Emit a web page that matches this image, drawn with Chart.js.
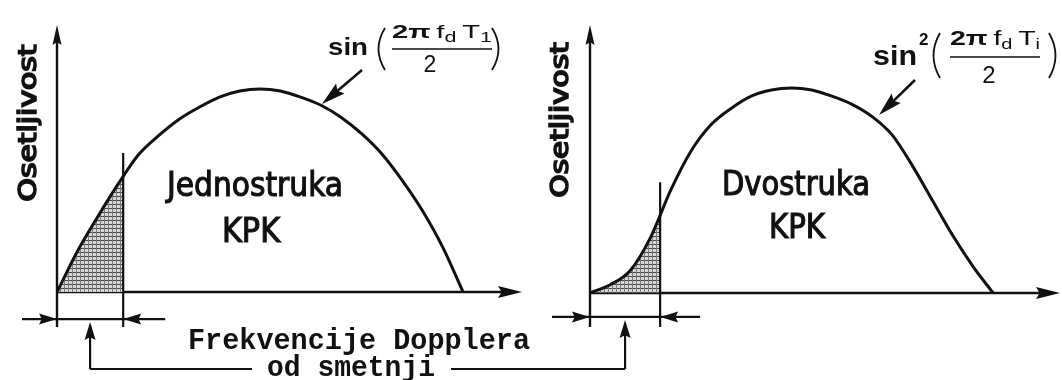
<!DOCTYPE html>
<html>
<head>
<meta charset="utf-8">
<script src="https://cdn.jsdelivr.net/npm/chart.js@4.4.1/dist/chart.umd.min.js"></script>
<style>
  html, body { margin: 0; padding: 0; background: #fff; }
  #wrap { position: relative; width: 1062px; height: 380px; overflow: hidden; background: #fff; }
  #wrap canvas { position: absolute; left: 0; top: 0; }
</style>
</head>
<body>
<div id="wrap">
  <canvas id="single" width="1062" height="380"></canvas>
  <canvas id="double" width="1062" height="380"></canvas>
</div>
<script>
(function () {
  "use strict";

  // normalised Doppler frequency (fd*Ti), first blind speed at 1
  var FREQ_1 = [0, 0.05, 0.10, 0.15, 0.20, 0.25, 0.30, 0.35, 0.40, 0.45, 0.50,
                0.55, 0.60, 0.65, 0.70, 0.75, 0.80, 0.85, 0.90, 0.95, 1.00];
  // single canceller response
  var SENS_1 = [0, 0.20, 0.37, 0.53, 0.675, 0.77, 0.85, 0.91, 0.96, 0.99, 1.00,
                0.99, 0.96, 0.92, 0.86, 0.78, 0.68, 0.55, 0.40, 0.22, 0];

  var FREQ_2 = [0, 0.05, 0.10, 0.15, 0.20, 0.25, 0.30, 0.35, 0.40, 0.45, 0.50,
                0.55, 0.60, 0.65, 0.70, 0.75, 0.80, 0.85, 0.90, 0.95, 1.00];
  // double canceller response
  var SENS_2 = [0, 0.04, 0.11, 0.27, 0.50, 0.69, 0.82, 0.90, 0.96, 0.99, 1.00,
                0.99, 0.96, 0.92, 0.86, 0.77, 0.62, 0.45, 0.28, 0.13, 0];

  // clutter band edge: frequency, response there, top of the marker line
  var CUTOFF_FREQ = [0.163, 0.174];
  var CUTOFF_SENS = [0.57, 0.38];
  var CUTOFF_TOP = [0.685, 0.54];

  // axis ranges of the two panels
  var X_MAX = [1.145, 1.166];
  var Y_MIN = [-0.172, -0.166];
  var Y_MAX = [1.315, 1.307];

  var INK = "#111";
  var NARROW = "'Liberation Sans Narrow', 'DejaVu Sans Condensed', 'Roboto', sans-serif";
  var SANS = "'Liberation Sans', Arial, sans-serif";
  var MONO = "'Liberation Mono', 'DejaVu Sans Mono', monospace";

  // ---- drawing helpers ---------------------------------------------------
  function line(ctx, x1, y1, x2, y2) {
    ctx.beginPath();
    ctx.moveTo(x1, y1);
    ctx.lineTo(x2, y2);
    ctx.stroke();
  }

  // filled head with its tip at (x2, y2)
  function head(ctx, x1, y1, x2, y2, len, half) {
    var a = Math.atan2(y2 - y1, x2 - x1);
    var c = Math.cos(a), s = Math.sin(a);
    ctx.beginPath();
    ctx.moveTo(x2, y2);
    ctx.lineTo(x2 - len * c + half * s, y2 - len * s - half * c);
    ctx.lineTo(x2 - len * c * 0.85, y2 - len * s * 0.85);
    ctx.lineTo(x2 - len * c - half * s, y2 - len * s + half * c);
    ctx.closePath();
    ctx.fill();
  }

  function arrow(ctx, x1, y1, x2, y2, len, half) {
    var a = Math.atan2(y2 - y1, x2 - x1);
    line(ctx, x1, y1, x2 - Math.cos(a) * len * 0.5, y2 - Math.sin(a) * len * 0.5);
    head(ctx, x1, y1, x2, y2, len, half);
  }

  // text squeezed or stretched to a given width, centred on cx
  function fitText(ctx, text, cx, y, width, font, weight) {
    ctx.save();
    ctx.font = font;
    ctx.textAlign = "center";
    var w = ctx.measureText(text).width;
    ctx.translate(cx, y);
    ctx.scale(width / w, 1);
    ctx.fillText(text, 0, 0);
    if (weight) {
      ctx.lineWidth = weight;
      ctx.strokeText(text, 0, 0);
    }
    ctx.restore();
  }

  function paren(ctx, x, top, bot, open) {
    var mid = (top + bot) / 2;
    ctx.beginPath();
    if (open) {
      ctx.moveTo(x + 8, top);
      ctx.quadraticCurveTo(x - 5, mid, x + 8, bot);
    } else {
      ctx.moveTo(x - 8, top);
      ctx.quadraticCurveTo(x + 5, mid, x - 8, bot);
    }
    ctx.stroke();
  }

  function formula(ctx, f) {
    ctx.save();
    ctx.fillStyle = INK;
    ctx.strokeStyle = INK;
    ctx.textBaseline = "alphabetic";
    fitText(ctx, "sin", f.sinX + f.sinW / 2, f.base, f.sinW, "bold " + f.sinSize + "px " + SANS);
    if (f.sup) {
      ctx.font = "bold " + f.sup[2] + "px " + SANS;
      ctx.textAlign = "left";
      ctx.fillText("2", f.sup[0], f.sup[1]);
    }
    ctx.lineWidth = 1.8;
    paren(ctx, f.parL, f.parTop, f.parBot, true);
    paren(ctx, f.parR, f.parTop, f.parBot, false);

    // numerator: 2 pi f_d T_sub
    var n = f.numSize;
    var parts = [
      ["2", "bold " + n + "px " + SANS, 0],
      ["\u03c0", "bold " + n + "px " + SANS, 0],
      ["\u2009f", n + "px " + SANS, 0],
      ["d", Math.round(n * 0.72) + "px " + SANS, 4],
      ["\u2009T", n + "px " + SANS, 0],
      [f.sub, Math.round(n * 0.72) + "px " + SANS, 4]
    ];
    var total = 0;
    parts.forEach(function (p) { ctx.font = p[1]; total += ctx.measureText(p[0]).width; });
    ctx.save();
    ctx.translate(f.numX, f.numBase);
    ctx.scale(f.numW / total, 1);
    ctx.textAlign = "left";
    var px = 0;
    parts.forEach(function (p) {
      ctx.font = p[1];
      ctx.fillText(p[0], px, p[2]);
      px += ctx.measureText(p[0]).width;
    });
    ctx.restore();

    ctx.lineWidth = 1.5;
    line(ctx, f.numX, f.barY, f.numX + f.numW, f.barY);
    ctx.font = f.denSize + "px " + SANS;
    ctx.textAlign = "center";
    ctx.fillText("2", f.denX, f.denBase);

    ctx.lineWidth = 2.6;
    arrow(ctx, f.tipFrom[0], f.tipFrom[1], f.tipTo[0], f.tipTo[1], 24, 6.5);
    ctx.restore();
  }

  // ---- panel furniture: axes, band markers, labels -------------------------
  var sketch = {
    id: "sketch",
    beforeDatasetsDraw: function (chart, args, o) {
      var ctx = chart.ctx, a = chart.chartArea;
      var x0 = chart.scales.x.getPixelForValue(0);
      var y0 = chart.scales.y.getPixelForValue(0);
      ctx.save();
      ctx.strokeStyle = INK;
      ctx.fillStyle = INK;
      ctx.lineWidth = 2.4;
      arrow(ctx, x0, a.bottom, x0, a.top, 20, 4.5);
      arrow(ctx, x0, y0, a.right, y0, 24, 6);
      ctx.restore();
    },
    afterDatasetsDraw: function (chart, args, o) {
      var ctx = chart.ctx;
      var xs = chart.scales.x, ys = chart.scales.y;
      var x0 = xs.getPixelForValue(0);
      var y0 = ys.getPixelForValue(0);
      var xc = xs.getPixelForValue(o.cut);
      var yd = y0 + o.dimDrop;
      var xm = (x0 + xc) / 2;

      ctx.save();
      ctx.strokeStyle = INK;
      ctx.fillStyle = INK;

      // clutter band dimension
      ctx.lineWidth = 2.2;
      line(ctx, x0 - o.tailL, yd, xc + o.tailR, yd);
      head(ctx, x0 - o.tailL, yd, x0, yd, 18, 5.5);
      head(ctx, xc + o.tailR, yd, xc, yd, 18, 5.5);
      arrow(ctx, xm, o.bracketY, xm, yd + 3, 18, 5.5);
      line(ctx, xm, o.bracketY, o.bracketTo, o.bracketY);

      // y axis title, reading upwards
      ctx.save();
      ctx.translate(o.yLabel[0], o.yLabel[1]);
      ctx.rotate(-Math.PI / 2);
      ctx.textBaseline = "middle";
      fitText(ctx, "Osetljivost", 0, 0, o.yLabel[2], "25px " + NARROW, 1.6);
      ctx.restore();

      // canceller name inside the arch
      ctx.textBaseline = "alphabetic";
      o.title.forEach(function (t) {
        fitText(ctx, t[0], t[1], t[2], t[3], "34px " + NARROW, 1.1);
      });

      formula(ctx, o.formula);

      if (o.caption) {
        o.caption.forEach(function (c) {
          fitText(ctx, c[0], c[1], c[2], c[3], "bold 30px " + MONO);
        });
      }
      ctx.restore();
    }
  };

  function hatch(ctx) {
    var c = document.createElement("canvas");
    c.width = 4;
    c.height = 4;
    var g = c.getContext("2d");
    g.fillStyle = "#d6d6d6";
    g.fillRect(0, 0, 4, 4);
    g.fillStyle = "#4a4a4a";
    g.fillRect(0, 0, 4, 1);
    g.fillStyle = "#7a7a7a";
    g.fillRect(0, 0, 1, 4);
    return ctx.createPattern(c, "repeat");
  }

  function points(freq, sens) {
    return freq.map(function (f, i) { return { x: f, y: sens[i] }; });
  }

  function panel(id, k, freq, sens, pad, furniture) {
    var canvas = document.getElementById(id);
    var ctx = canvas.getContext("2d");
    var curve = points(freq, sens);
    var shade = curve.filter(function (p) { return p.x < CUTOFF_FREQ[k]; });
    shade.push({ x: CUTOFF_FREQ[k], y: CUTOFF_SENS[k] });

    return new Chart(ctx, {
      type: "line",
      data: {
        datasets: [
          {
            data: curve,
            borderColor: INK,
            borderWidth: 3,
            pointRadius: 0,
            fill: false,
            cubicInterpolationMode: "monotone",
            order: 0
          },
          {
            data: [{ x: CUTOFF_FREQ[k], y: CUTOFF_TOP[k] }, { x: CUTOFF_FREQ[k], y: Y_MIN[k] }],
            borderColor: INK,
            borderWidth: 2.2,
            pointRadius: 0,
            fill: false,
            order: 1
          },
          {
            data: shade,
            borderWidth: 0,
            borderColor: "rgba(0,0,0,0)",
            backgroundColor: hatch(ctx),
            pointRadius: 0,
            fill: "origin",
            cubicInterpolationMode: "monotone",
            order: 2
          }
        ]
      },
      options: {
        responsive: false,
        animation: false,
        devicePixelRatio: 1,
        layout: { padding: pad },
        events: [],
        scales: {
          x: { type: "linear", min: 0, max: X_MAX[k], display: false },
          y: { type: "linear", min: Y_MIN[k], max: Y_MAX[k], display: false }
        },
        plugins: {
          legend: { display: false },
          tooltip: { enabled: false },
          sketch: furniture
        }
      },
      plugins: [sketch]
    });
  }

  panel("single", 0, FREQ_1, SENS_1, { left: 57, right: 540, top: 25, bottom: 53 }, {
    cut: CUTOFF_FREQ[0],
    dimDrop: 27, tailL: 35, tailR: 42,
    bracketY: 369, bracketTo: 252,
    yLabel: [29, 123, 157],
    title: [["Jednostruka", 255, 196, 176], ["KPK", 251, 242, 58]],
    formula: {
      sinX: 328, sinW: 40, base: 55, sinSize: 24, sup: null,
      parL: 377, parR: 500, parTop: 28, parBot: 70,
      numX: 392, numW: 100, numBase: 38, numSize: 19, sub: "1",
      barY: 49, denX: 430, denBase: 72, denSize: 23,
      tipFrom: [362, 70], tipTo: [322, 104]
    },
    caption: [["Frekvencije Dopplera", 359, 349, 342], ["od smetnji", 351, 376, 168]]
  });

  panel("double", 1, FREQ_2, SENS_2, { left: 590, right: 2, top: 25, bottom: 53 }, {
    cut: CUTOFF_FREQ[1],
    dimDrop: 24, tailL: 38, tailR: 40,
    bracketY: 369, bracketTo: 451,
    yLabel: [561, 120, 155],
    title: [["Dvostruka", 796, 195, 148], ["KPK", 797, 238, 56]],
    formula: {
      sinX: 873, sinW: 44, base: 65, sinSize: 27, sup: [919, 45, 17],
      parL: 932, parR: 1057, parTop: 33, parBot: 78,
      numX: 950, numW: 90, numBase: 45, numSize: 20, sub: "i",
      barY: 57, denX: 989, denBase: 83, denSize: 24,
      tipFrom: [915, 80], tipTo: [879, 115]
    },
    caption: null
  });
})();
</script>
</body>
</html>
